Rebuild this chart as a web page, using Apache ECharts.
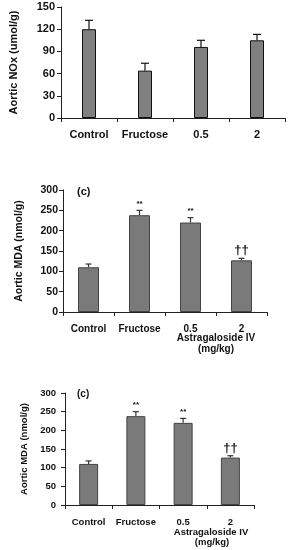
<!DOCTYPE html>
<html>
<head>
<meta charset="utf-8">
<script src="https://cdn.jsdelivr.net/npm/echarts@6/dist/echarts.min.js"></script>
<style>html,body{margin:0;padding:0;background:#fff}#c{width:289px;height:550px}</style>
</head>
<body>
<div id="c"></div>
<script>
var categories = ['Control', 'Fructose', '0.5', '2'];
var noxValues = [120, 64, 96, 105];
var noxErrors = [12, 10, 9, 8];
var noxTicks = [0, 30, 60, 90, 120, 150];
var mdaValues = [110, 238, 220, 127];
var mdaErrors = [8, 12, 12, 5];
var mdaMarks = ['', '**', '**', '\u2020\u2020'];
var mdaTicks = [0, 50, 100, 150, 200, 250, 300];

var FONT = 'Liberation Sans, Arial, sans-serif';
var chart = echarts.init(document.getElementById('c'));

function errData(vals, errs, marks) {
  return vals.map(function (v, i) { return [i, v, errs[i], marks ? marks[i] : '']; });
}
function errRender(capHalf, color, markFont) {
  return function (params, api) {
    var i = api.value(0), v = api.value(1), e = api.value(2);
    var mark = api.value(3);
    var base = api.coord([i, v]);
    var top = api.coord([i, v + e]);
    var children = [
      { type: 'line', shape: { x1: base[0], y1: base[1], x2: top[0], y2: top[1] }, style: { stroke: color, lineWidth: 1.2 } },
      { type: 'line', shape: { x1: top[0] - capHalf, y1: top[1], x2: top[0] + capHalf, y2: top[1] }, style: { stroke: color, lineWidth: 1.2 } }
    ];
    if (mark && mark !== '-' && typeof mark === 'string') {
      var isDagger = mark.indexOf('\u2020') >= 0;
      children.push({ type: 'text', style: { text: mark, x: top[0], y: top[1] - (isDagger ? 1 : 3), align: 'center', verticalAlign: 'bottom', font: isDagger ? 'bold 13px ' + FONT : markFont, fill: '#111' } });
    }
    return { type: 'group', children: children };
  };
}

function yAx(grid, ticks, name, nameGap, fs, margin) {
  return {
    type: 'value', gridIndex: grid, min: ticks[0], max: ticks[ticks.length - 1], interval: ticks[1] - ticks[0],
    name: name, nameLocation: 'middle', nameGap: nameGap, nameRotate: 90,
    nameTextStyle: { fontFamily: FONT, fontWeight: 'bold', fontSize: fs, color: '#111' },
    axisLine: { show: true, lineStyle: { color: '#222', width: 1 } },
    axisTick: { show: true, length: 4, lineStyle: { color: '#222' } },
    axisLabel: { fontFamily: FONT, fontWeight: 'bold', fontSize: fs, color: '#111', margin: margin },
    splitLine: { show: false }
  };
}
function xAx(grid, fs, margin) {
  return {
    type: 'category', gridIndex: grid, data: categories, boundaryGap: true,
    axisLine: { show: true, lineStyle: { color: '#222', width: 1 } },
    axisTick: { show: true, length: 4, lineStyle: { color: '#222' } },
    axisLabel: { fontFamily: FONT, fontWeight: 'bold', fontSize: fs, color: '#111', margin: margin, interval: 0 }
  };
}

chart.setOption({
  animation: false,
  grid: [
    { left: 52, top: 7, width: 233, height: 111 },
    { left: 63, top: 190, width: 204, height: 122 },
    { left: 65, top: 393, width: 189, height: 112 }
  ],
  xAxis: [xAx(0, 11, 11), xAx(1, 10, 12), xAx(2, 9.5, 12)],
  yAxis: [
    yAx(0, noxTicks, 'Aortic NOx (umol/g)', 42, 11, 6),
    yAx(1, mdaTicks, 'Aortic MDA (nmol/g)', 38, 10.5, 5),
    yAx(2, mdaTicks, 'Aortic MDA (nmol/g)', 36, 9.5, 9)
  ],
  series: [
    { type: 'bar', xAxisIndex: 0, yAxisIndex: 0, data: noxValues, barWidth: 14,
      itemStyle: { color: '#808080', borderColor: '#111', borderWidth: 1 } },
    { type: 'custom', xAxisIndex: 0, yAxisIndex: 0, data: errData(noxValues, noxErrors, null),
      encode: { x: 0, y: [1] }, renderItem: errRender(4, '#111', 'bold 8px ' + FONT), z: 5 },
    { type: 'bar', xAxisIndex: 1, yAxisIndex: 1, data: mdaValues, barWidth: 21,
      itemStyle: { color: '#7a7a7a', borderColor: '#444', borderWidth: 1 } },
    { type: 'custom', xAxisIndex: 1, yAxisIndex: 1, data: errData(mdaValues, mdaErrors, mdaMarks),
      encode: { x: 0, y: [1] }, renderItem: errRender(3, '#333', 'bold 8px ' + FONT), z: 5 },
    { type: 'bar', xAxisIndex: 2, yAxisIndex: 2, data: mdaValues, barWidth: 19,
      itemStyle: { color: '#7a7a7a', borderColor: '#444', borderWidth: 1 } },
    { type: 'custom', xAxisIndex: 2, yAxisIndex: 2, data: errData(mdaValues, mdaErrors, mdaMarks),
      encode: { x: 0, y: [1] }, renderItem: errRender(3, '#333', 'bold 8px ' + FONT), z: 5 }
  ],
  graphic: [
    { type: 'text', left: 77, top: 186, style: { text: '(c)', font: 'bold 11px ' + FONT, fill: '#111' } },
    { type: 'text', left: 77, top: 389, style: { text: '(c)', font: 'bold 10px ' + FONT, fill: '#111' } },
    { type: 'text', x: 216, y: 338, style: { text: 'Astragaloside IV', align: 'center', verticalAlign: 'middle', font: 'bold 10px ' + FONT, fill: '#111' } },
    { type: 'text', x: 216, y: 349, style: { text: '(mg/kg)', align: 'center', verticalAlign: 'middle', font: 'bold 10px ' + FONT, fill: '#111' } },
    { type: 'text', x: 211, y: 532, style: { text: 'Astragaloside IV', align: 'center', verticalAlign: 'middle', font: 'bold 9.5px ' + FONT, fill: '#111' } },
    { type: 'text', x: 212, y: 542, style: { text: '(mg/kg)', align: 'center', verticalAlign: 'middle', font: 'bold 9.5px ' + FONT, fill: '#111' } }
  ]
});
</script>
</body>
</html>
